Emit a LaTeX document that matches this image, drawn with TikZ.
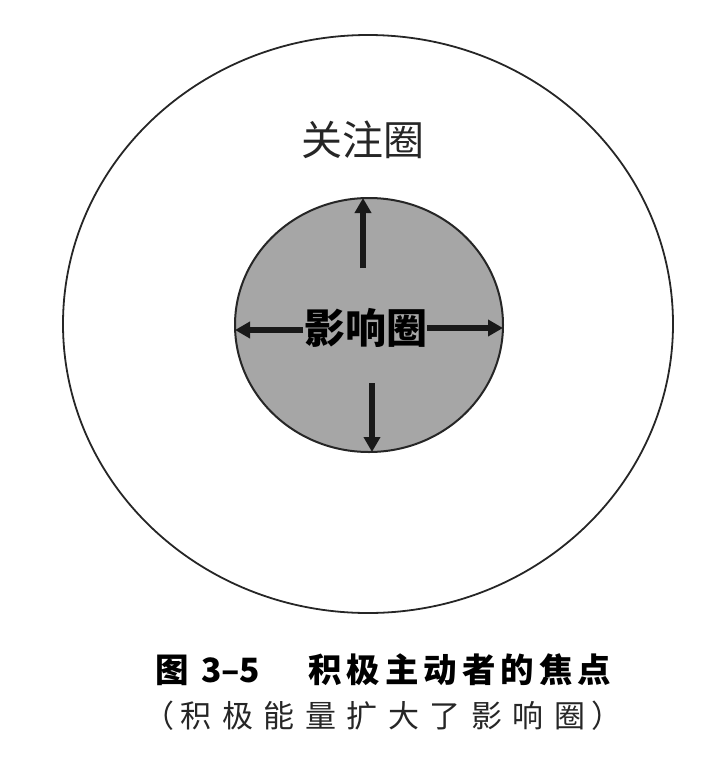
\documentclass[tikz,border=0pt]{standalone}
\usepackage{fontspec}
\newfontfamily\cjk{Noto Sans CJK SC}
\usetikzlibrary{shapes.geometric,arrows.meta}
\begin{document}
\begin{tikzpicture}[x=1pt,y=-1pt,
  ring/.style={draw=black!85, ellipse, inner sep=0pt, outer sep=0pt},
  expandarrow/.style={line width=5.5pt, draw=black!90, -{Triangle[length=15pt,width=16pt]}},
  lbl/.style={inner sep=0pt, text=black!85}]
\useasboundingbox (0,0) rectangle (723,769);
\node[ring, line width=1.8pt, minimum width=610pt, minimum height=578pt] (outer) at (368,324) {};
\node[ring, line width=2pt, fill=black!35, minimum width=268pt, minimum height=254pt] (inner) at (369,325) {};
\node[lbl] (concern) at (363,140) {\cjk\fontsize{41}{48}\selectfont 关注圈};
\node[lbl, text=black] (influence) at (366,328) {\cjk\bfseries\fontsize{41}{48}\selectfont 影响圈};
\coordinate (sU) at (363,268);
\coordinate (sD) at (372,383);
\coordinate (sL) at (303,330);
\coordinate (sR) at (427,328);
\draw[expandarrow] (sU) -- (sU |- inner.north);
\draw[expandarrow] (sD) -- (sD |- inner.south);
\draw[expandarrow] (sL) -- (sL -| inner.west);
\draw[expandarrow] (sR) -- (sR -| inner.east);
\node[lbl, text=black] (cap1) at (383.5,670) {\cjk\bfseries\fontsize{33.5}{38}\selectfont 图\hspace{12pt}3–5\hspace{48pt}积\hspace{5pt}极\hspace{5pt}主\hspace{5pt}动\hspace{5pt}者\hspace{5pt}的\hspace{5pt}焦\hspace{5pt}点};
\node[lbl] (cap2) at (383,716) {\cjk\fontsize{31}{36}\selectfont （\hspace{6pt}积\hspace{10.5pt}极\hspace{10.5pt}能\hspace{10.5pt}量\hspace{10.5pt}扩\hspace{10.5pt}大\hspace{10.5pt}了\hspace{10.5pt}影\hspace{10.5pt}响\hspace{10.5pt}圈\hspace{6pt}）};
\end{tikzpicture}
\end{document}
